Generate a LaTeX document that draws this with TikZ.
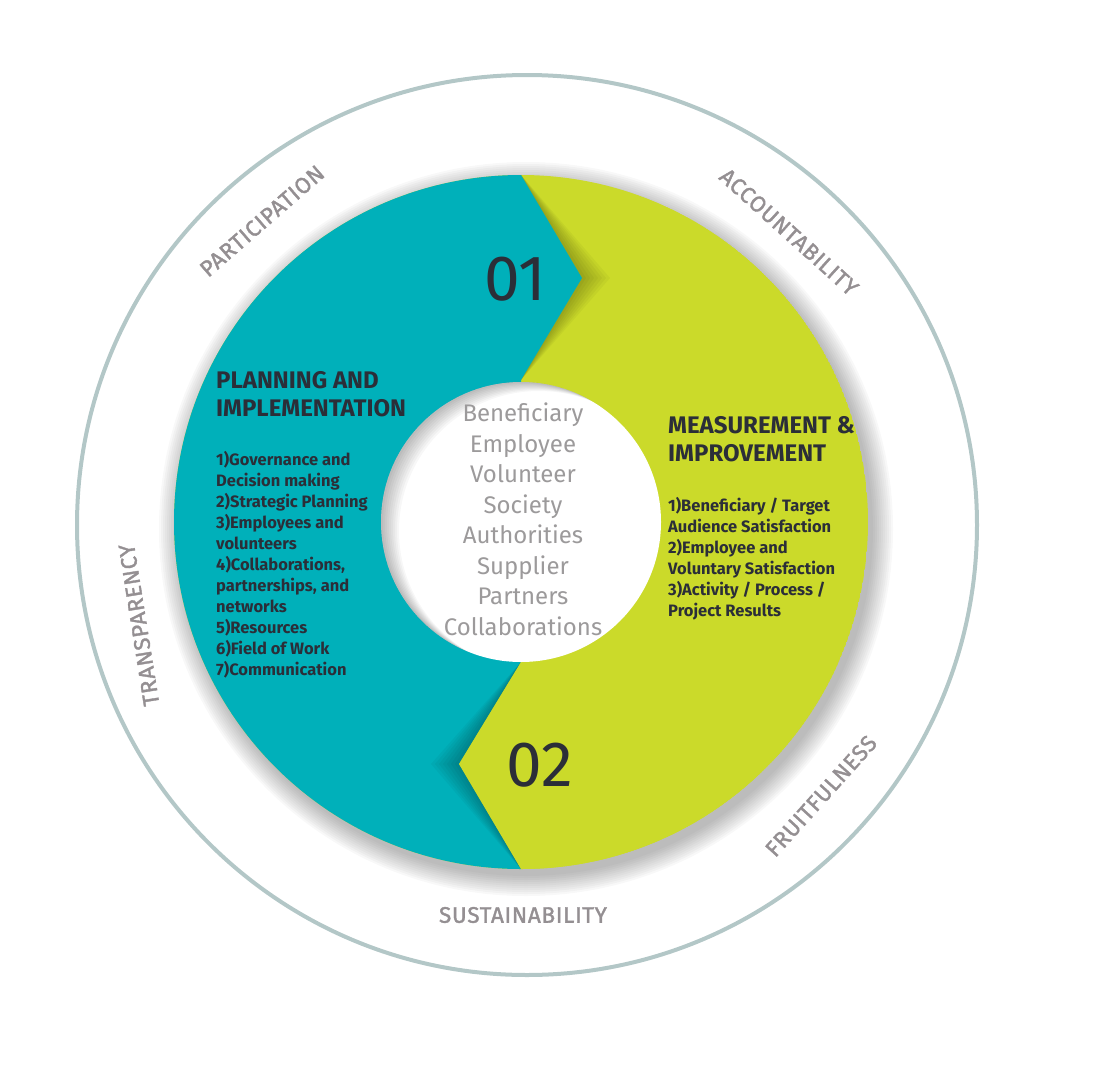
\documentclass[tikz,border=0pt]{standalone}
\usepackage{fontspec}
\setmainfont{Fira Sans}
\usepackage{tikz}
\usetikzlibrary{positioning,calc}
\definecolor{cycleteal}{HTML}{00B0BA}
\definecolor{cyclelime}{HTML}{CBDA2A}
\definecolor{ringgrey}{HTML}{B3C7C7}
\definecolor{labelgrey}{HTML}{948F92}
\definecolor{wordgrey}{HTML}{9C9A9B}
\definecolor{darktext}{HTML}{2B2E38}

\begin{document}
\begin{tikzpicture}[x=1pt, y=-1pt,
  ringlabel/.style={text=labelgrey, font=\fontsize{22.5}{22.5}\selectfont\addfontfeature{LetterSpace=3,FakeBold=1.6}, inner sep=0pt},
  stagetitle/.style={text=darktext, font=\fontsize{24}{28}\selectfont\bfseries, align=left, anchor=north west, inner sep=0pt},
  stagelist/.style={text=darktext, font=\fontsize{16.5}{21}\selectfont\bfseries, align=left, anchor=north west, inner sep=0pt},
  stakeholders/.style={text=wordgrey, font=\fontsize{24}{30.5}\selectfont, align=center, anchor=north, inner sep=0pt},
  stagenum/.style={text=darktext, font=\fontsize{64}{64}\selectfont, inner sep=0pt},
  softshade/.style={black, opacity=0.035}
]
\useasboundingbox (0,0) rectangle (1098,1082);

\coordinate (ringc) at (527,525);
\coordinate (hub) at (521,522);

% Outer ring
\draw[ringgrey, line width=4] (ringc) circle (450);

% Drop shadow of the cycle
\foreach \s in {0,...,10}
  \fill[black, opacity=0.028] ($(hub)+(5,7)$) circle (347+2*\s);

% Cycle
\begin{scope}
\clip (hub) circle (347);
\fill[cyclelime] (hub) circle (347);
\foreach \d in {4,8,...,28}
  \fill[softshade] (521,175) -- (582+\d,278) -- (521,380) -- cycle;
\fill[cycleteal] (0,0) -- (521,0) -- (521,175) -- (582,278) -- (521,380)
  -- (521,662) -- (459,764) -- (521,869) -- (521,1082) -- (0,1082) -- cycle;
\foreach \d in {4,8,...,28}
  \fill[softshade] (521,662) -- (459-\d,764) -- (521,869) -- cycle;
\fill[cyclelime] (521,662) -- (459,764) -- (521,869) -- (1098,869) -- (1098,662) -- cycle;
\end{scope}

% Hub with inner shadow
\fill[white] (hub) circle (140);
\begin{scope}
\clip (hub) circle (140);
\foreach \d in {2,4,...,18}
  \fill[black, opacity=0.03, even odd rule] (hub) circle (160) ($(hub)+(\d,0.5*\d)$) circle (140);
\end{scope}

% Stage numbers
\node[stagenum] (num1) at (515,279) {01};
\node[stagenum] (num2) at (540,765) {02};

% Stage texts
\node[stagetitle] (plantitle) at (216,371) {PLANNING AND\\IMPLEMENTATION};
\node[stagelist] (planlist) at (216,451) {1)Governance and\\Decision making\\2)Strategic Planning\\3)Employees and\\volunteers\\4)Collaborations,\\partnerships, and\\networks\\5)Resources\\6)Field of Work\\7)Communication};
\node[stagetitle] (meastitle) at (668,416) {MEASUREMENT \&\\IMPROVEMENT};
\node[stagelist] (measlist) at (668,497) {1)Beneficiary / Target\\Audience Satisfaction\\2)Employee and\\Voluntary Satisfaction\\3)Activity / Process /\\Project Results};

% Stakeholders
\node[stakeholders] (groups) at (523,403) {Beneficiary\\Employee\\Volunteer\\Society\\Authorities\\Supplier\\Partners\\Collaborations};

% Principles on the ring
\node[ringlabel, rotate=41] (participation) at (262,221) {PARTICIPATION};
\node[ringlabel, rotate=-42] (accountability) at (789,232) {ACCOUNTABILITY};
\node[ringlabel, rotate=99] (transparency) at (139,625) {TRANSPARENCY};
\node[ringlabel, rotate=48] (fruitfulness) at (821,796) {FRUITFULNESS};
\node[ringlabel] (sustainability) at (523,915) {SUSTAINABILITY};

\end{tikzpicture}
\end{document}
